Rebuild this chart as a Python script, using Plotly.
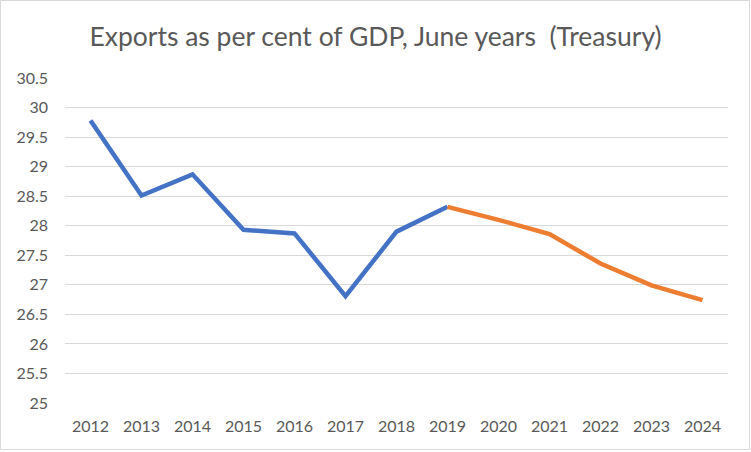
import plotly.graph_objects as go

years = [str(y) for y in range(2012, 2025)]
actual_years = years[:8]          # 2012-2019
actual_values = [29.78, 28.51, 28.87, 27.93, 27.87, 26.81, 27.90, 28.32]
forecast_years = years[7:]        # 2019-2024
forecast_values = [28.32, 28.10, 27.86, 27.36, 26.99, 26.74]

W, H = 751, 452
ml, mr, mt, mb = 65, 23, 78, 49
pw, ph = W - ml - mr, H - mt - mb

fig = go.Figure()
fig.add_trace(go.Scatter(x=actual_years, y=actual_values, mode="lines",
                         line=dict(color="#4472C4", width=4.5), showlegend=False,
                         hoverinfo="x+y"))
fig.add_trace(go.Scatter(x=forecast_years, y=forecast_values, mode="lines",
                         line=dict(color="#ED7D31", width=4.5), showlegend=False,
                         hoverinfo="x+y"))

fig.update_layout(
    width=W, height=H,
    margin=dict(l=ml, r=mr, t=mt, b=mb),
    paper_bgcolor="white", plot_bgcolor="white",
    font=dict(family="Lato, Open Sans, sans-serif", color="#595959", size=16),
    title=dict(text="Exports as per cent of GDP, June years&nbsp;&nbsp;(Treasury)",
               x=0.5, xanchor="center", y=0.918, yanchor="middle",
               font=dict(size=26.5, color="#595959")),
    xaxis=dict(type="category", categoryorder="array", categoryarray=years,
               range=[-0.5, len(years) - 0.5], showgrid=False, zeroline=False,
               showline=False, ticks="", ticklabelstandoff=12),
    yaxis=dict(range=[25, 30.5], tick0=25, dtick=0.5, showgrid=True,
               gridcolor="#d9d9d9", gridwidth=1, zeroline=False, showline=False,
               ticks="", ticklabelstandoff=16),
    shapes=[dict(type="rect", xref="paper", yref="paper",
                 x0=(0.5 - ml) / pw, x1=(W - 1.5 - ml) / pw,
                 y0=-(H - 2.5 - mt - ph) / ph, y1=1 + (mt - 0.5) / ph,
                 line=dict(color="#d9d9d9", width=1), layer="below")],
)

fig.write_html("out.html", config={"displayModeBar": False},
               post_script="document.body.style.margin='0';document.body.style.overflow='hidden';")
